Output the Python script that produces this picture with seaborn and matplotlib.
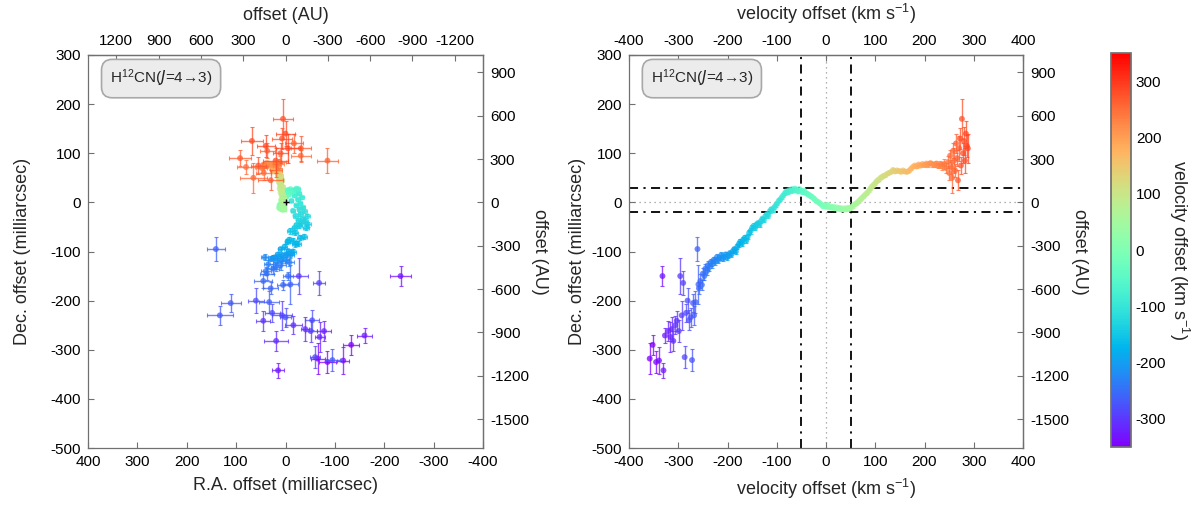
import numpy as np
import pandas as pd
import matplotlib
matplotlib.use("Agg")
import matplotlib.pyplot as plt
import seaborn as sns
from matplotlib.colors import Normalize
from matplotlib.cm import ScalarMappable

# ---------------- data ----------------
# scattered, low-S/N blue-shifted tail
tail_v = [-358, -352, -345, -339, -332, -330, -327, -320, -316, -313, -310, -306, -303, -299,
          -296, -293, -290, -287, -284, -281, -278, -275, -272, -270, -268, -265, -261, -259]
tail_dec = [-318, -290, -325, -322, -150, -342, -271, -262, -274, -258, -282, -250, -241, -262,
            -150, -230, -164, -315, -225, -200, -240, -234, -321, -205, -230, -203, -95, -167]
tail_ra = [-65, -133, -85, -117, -233, 15, -160, -78, -69, -40, 19, -16, 45, -51,
           -27, 7, -68, -60, 27, 60, -54, 0, -95, 111, 133, 33, 141, -10]
tail_era = [14, 16, 18, 12, 22, 12, 15, 14, 10, 8, 25, 18, 14, 12,
            18, 20, 12, 10, 15, 16, 14, 12, 15, 20, 27, 20, 19, 15]
tail_edec = [32, 20, 22, 28, 21, 15, 15, 20, 30, 25, 20, 18, 20, 22,
             36, 30, 25, 22, 18, 25, 20, 20, 22, 18, 20, 22, 24, 40]

# dense main trail
main_v = [-258, -255, -252, -250, -247, -245, -242, -240, -237, -234,
          -231, -228, -225, -222, -219, -216, -213, -210, -207, -204, -201, -198, -195, -192, -189, -186, -183, -180, -177, -174,
          -171, -168, -165, -162, -159, -156, -153, -150, -147, -144, -141, -138, -135, -132, -129, -126, -123, -120, -117, -114,
          -111, -108, -105, -102, -99, -96, -93, -90, -87, -84, -81, -78, -75, -72, -69, -66, -63, -60, -57, -54, -51, -48, -45, -42, -39, -36, -33, -30, -27, -24,
          -21, -18, -15, -12, -9, -6, -3, 0, 3, 6, 9, 12, 15, 18, 21, 24, 27, 30, 33, 36, 39, 42, 45, 48,
          51, 54, 57, 60, 63, 66, 69, 72, 75, 78, 81, 84, 87, 90, 93, 96, 99, 102, 105, 108, 111, 114, 117, 120,
          124, 128, 132, 136, 140, 144, 148, 152, 156, 160, 164, 168, 172, 176, 180, 184, 188, 192, 196, 200,
          204, 208, 212, 216, 220, 224, 228, 232, 236, 240, 244, 248]
main_dec = [-175, -160, -168, -145, -150, -135, -140, -128, -132, -122,
            -126, -117, -121, -112, -118, -113, -108, -115, -110, -106, -112, -108, -103, -106, -99, -95, -100, -90, -85, -80,
            -84, -76, -72, -78, -70, -62, -58, -52, -48, -52, -45, -42, -46, -38, -33, -36, -28, -24, -27, -18,
            -14, -17, -10, -6, -2, 3, 6, 10, 14, 18, 22, 20, 25, 23, 27, 24, 28, 25, 22, 27, 24, 21, 24, 20, 18, 16, 14, 12, 10, 7,
            4, 2, 0, -2, -5, -8, -6, -9, -5, -10, -8, -11, -9, -12, -10, -13, -11, -14, -12, -15, -12, -14, -11, -13,
            -10, -8, -5, -3, -1, 2, 5, 8, 11, 14, 17, 20, 24, 28, 32, 35, 38, 42, 45, 47, 50, 52, 54, 55,
            58, 60, 62, 66, 63, 65, 64, 62, 65, 63, 62, 64, 68, 72, 75, 73, 77, 75, 78, 76,
            79, 77, 80, 78, 76, 79, 75, 77, 74, 78, 70, 82]
main_ra = [30, 45, 5, 38, -5, 25, 40, 10, 20, -8,
           35, 0, 18, 42, 8, 25, -10, 30, 12, -2, 22, 5, -12, 15, -6, 10, -15, 2, -20, -4,
           -25, -8, -30, -15, -38, -20, -10, -42, -28, -18, -45, -32, -22, -40, -35, -26, -44, -30, -20, -38,
           -28, -15, -35, -22, -30, -12, -25, -33, -18, -28, -10, -24, -20, -8, -26, -14, -22, -6, -16, -10, -4, -12, -2, -8, 0, -5, 3, -2, 5, 2,
           6, 2, 8, 4, 10, 5, 9, 3, 12, 6, 10, 4, 11, 7, 13, 5, 9, 8, 12, 4, 10, 6, 9, 3,
           8, 5, 10, 2, 7, 4, 9, 6, 3, 8, 5, 10, 7, 12, 6, 11, 9, 14, 8, 12, 10, 15, 9, 13,
           16, 11, 18, 14, 20, 12, 22, 16, 19, 25, 17, 23, 28, 20, 26, 18, 30, 24, 32, 22,
           35, 27, 38, 24, 40, 20, 42, 18, 45, 15, 48, 12]
main_edec = [12, 14, 10, 12, 9, 10, 8, 9, 8, 7,
             8, 6, 7, 6, 6, 5, 6, 5, 5, 6, 5, 5, 5, 5, 5, 5, 6, 5, 6, 5,
             5, 6, 5, 5, 5, 5, 6, 5, 5, 4, 5, 4, 4, 4, 4, 4, 4, 4, 4, 4,
             4, 3, 3, 3, 3, 3, 3, 3, 3, 3, 3, 3, 3, 3, 3, 3, 3, 3, 3, 3, 3, 3, 3, 3, 3, 3, 3, 3, 3, 3,
             3, 3, 3, 3, 3, 3, 3, 3, 3, 3, 3, 3, 3, 3, 3, 3, 3, 3, 3, 3, 3, 3, 3, 3,
             3, 3, 3, 3, 3, 3, 3, 3, 3, 3, 3, 3, 3, 3, 3, 3, 3, 3, 3, 3, 3, 3, 3, 3,
             3, 3, 3, 3, 3, 3, 3, 3, 3, 3, 3, 3, 3, 3, 3, 3, 3, 3, 3, 3,
             4, 4, 4, 5, 5, 6, 6, 7, 8, 10, 10, 12]
main_era = [15, 18, 12, 14, 10, 12, 10, 11, 9, 9,
            9, 8, 8, 7, 8, 7, 7, 6, 7, 6, 6, 7, 6, 6, 6, 6, 7, 6, 6, 6,
            6, 7, 6, 6, 6, 6, 7, 6, 6, 5, 6, 5, 5, 5, 5, 5, 5, 5, 5, 5,
            5, 4, 4, 4, 4, 4, 4, 4, 4, 4, 4, 4, 4, 4, 4, 4, 4, 4, 4, 4, 4, 4, 4, 4, 4, 4, 4, 4, 4, 4,
            4, 4, 4, 4, 4, 4, 4, 4, 4, 4, 4, 4, 4, 4, 4, 4, 4, 4, 4, 4, 4, 4, 4, 4,
            4, 4, 4, 4, 4, 4, 4, 4, 4, 4, 4, 4, 4, 4, 4, 4, 4, 4, 4, 4, 4, 4, 4, 4,
            4, 4, 4, 4, 4, 4, 4, 4, 4, 4, 4, 4, 4, 4, 4, 4, 4, 4, 4, 4,
            5, 5, 5, 6, 6, 7, 7, 8, 9, 11, 11, 13]

# scattered red-shifted head
head_v = [250, 252, 254, 256, 258, 260, 262, 264, 266, 268, 270, 272, 274, 276, 278, 280, 282, 284, 286, 288]
head_dec = [60, 95, 72, 50, 105, 85, 65, 120, 90, 45, 110, 130, 75, 170, 100, 125, 85, 140, 115, 110]
head_ra = [44, -31, 80, 65, 37, -85, 20, -17, 92, 30, -31, 7, 55, 5, 10, 68, 20, 0, 40, -5]
head_era = [15, 20, 18, 27, 15, 22, 12, 18, 22, 25, 20, 20, 15, 20, 16, 22, 25, 20, 18, 25]
head_edec = [15, 12, 14, 30, 15, 25, 14, 20, 16, 20, 25, 22, 18, 40, 20, 28, 25, 25, 22, 30]

ra_ticks = [400, 300, 200, 100, 0, -100, -200, -300, -400]
dec_ticks = [300, 200, 100, 0, -100, -200, -300, -400, -500]
au_x_ticks = [1200, 900, 600, 300, 0, -300, -600, -900, -1200]
au_y_ticks = [900, 600, 300, 0, -300, -600, -900, -1200, -1500]
vel_ticks = [-400, -300, -200, -100, 0, 100, 200, 300, 400]
cbar_ticks = [-300, -200, -100, 0, 100, 200, 300]
AU_PER_MAS_X = 3.5
AU_PER_MAS_Y = 3.4

df = pd.DataFrame({
    "v": tail_v + main_v + head_v,
    "ra": tail_ra + main_ra + head_ra,
    "dec": tail_dec + main_dec + head_dec,
    "era": tail_era + main_era + head_era,
    "edec": tail_edec + main_edec + head_edec,
})

# ---------------- style ----------------
sns.set_theme(style="ticks")
plt.rcParams["font.family"] = ["Liberation Sans", "DejaVu Sans"]
plt.rcParams["mathtext.default"] = "regular"
plt.rcParams["axes.unicode_minus"] = False
plt.rcParams["axes.edgecolor"] = "#707070"
plt.rcParams["xtick.color"] = "#707070"
plt.rcParams["ytick.color"] = "#707070"
plt.rcParams["xtick.labelcolor"] = "black"
plt.rcParams["ytick.labelcolor"] = "black"

cmap = plt.get_cmap("rainbow")
norm = Normalize(vmin=-350, vmax=350)
TICK_FS = 11
LAB_FS = 13

fig = plt.figure(figsize=(12, 5.13), dpi=100)
ax1 = fig.add_axes([88 / 1200, 1 - 448 / 513, 395 / 1200, 393 / 513])
ax2 = fig.add_axes([629 / 1200, 1 - 448 / 513, 394 / 1200, 393 / 513])
cax = fig.add_axes([1111 / 1200, 1 - 447 / 513, 20 / 1200, 394 / 513])


def style_ticks(ax):
    ax.tick_params(direction="in", length=4, width=0.8, labelsize=TICK_FS, pad=5)
    for s in ax.spines.values():
        s.set_linewidth(0.9)


# ---------------- left panel: RA vs Dec ----------------
for r in df.itertuples():
    c = cmap(norm(r.v))
    ax1.errorbar(r.ra, r.dec, xerr=r.era, yerr=r.edec, fmt="none", ecolor=c,
                 elinewidth=1.0, capsize=1.5, capthick=0.8, alpha=0.75)
sns.scatterplot(data=df, x="ra", y="dec", hue="v", palette="rainbow", hue_norm=(-350, 350),
                s=18, linewidth=0, alpha=0.75, legend=False, ax=ax1)
ax1.plot([0], [0], marker="+", color="black", ms=5, mew=1.0, zorder=10)
ax1.set_xlim(400, -400)
ax1.set_ylim(-500, 300)
ax1.set_xticks(ra_ticks)
ax1.set_yticks(dec_ticks)
ax1.set_xlabel("R.A. offset (milliarcsec)", fontsize=LAB_FS, labelpad=6)
ax1.set_ylabel("Dec. offset (milliarcsec)", fontsize=LAB_FS, labelpad=14)
style_ticks(ax1)

t1 = ax1.secondary_xaxis("top", functions=(lambda x: x * AU_PER_MAS_X, lambda x: x / AU_PER_MAS_X))
t1.set_xticks(au_x_ticks)
t1.set_xlabel("offset (AU)", fontsize=LAB_FS, labelpad=10)
style_ticks(t1)
r1 = ax1.secondary_yaxis("right", functions=(lambda y: y * AU_PER_MAS_Y, lambda y: y / AU_PER_MAS_Y))
r1.set_yticks(au_y_ticks)
r1.set_ylabel("offset (AU)", fontsize=LAB_FS, rotation=270, labelpad=14)
style_ticks(r1)

# ---------------- right panel: velocity vs Dec ----------------
for x0 in (-50, 50):
    ax2.axvline(x0, color="black", lw=1.3, ls=(0, (5, 3, 1.2, 3)), zorder=0)
for y0 in (30, -20):
    ax2.axhline(y0, color="black", lw=1.3, ls=(0, (5, 3, 1.2, 3)), zorder=0)
ax2.axvline(0, color="#999999", lw=0.9, ls=(0, (1, 3)), zorder=0)
ax2.axhline(0, color="#999999", lw=0.9, ls=(0, (1, 3)), zorder=0)

for r in df.itertuples():
    c = cmap(norm(r.v))
    ax2.errorbar(r.v, r.dec, yerr=r.edec, fmt="none", ecolor=c,
                 elinewidth=1.0, capsize=1.5, capthick=0.8, alpha=0.75)
sns.scatterplot(data=df, x="v", y="dec", hue="v", palette="rainbow", hue_norm=(-350, 350),
                s=18, linewidth=0, alpha=0.75, legend=False, ax=ax2)
ax2.set_xlim(-400, 400)
ax2.set_ylim(-500, 300)
ax2.set_xticks(vel_ticks)
ax2.set_yticks(dec_ticks)
ax2.set_xlabel("velocity offset (km s$^{-1}$)", fontsize=LAB_FS, labelpad=6)
ax2.set_ylabel("Dec. offset (milliarcsec)", fontsize=LAB_FS, labelpad=4)
style_ticks(ax2)

t2 = ax2.secondary_xaxis("top")
t2.set_xticks(vel_ticks)
t2.set_xlabel("velocity offset (km s$^{-1}$)", fontsize=LAB_FS, labelpad=10)
style_ticks(t2)
r2 = ax2.secondary_yaxis("right", functions=(lambda y: y * AU_PER_MAS_Y, lambda y: y / AU_PER_MAS_Y))
r2.set_yticks(au_y_ticks)
r2.set_ylabel("offset (AU)", fontsize=LAB_FS, rotation=270, labelpad=14)
style_ticks(r2)

# line label boxes
for ax in (ax1, ax2):
    ax.text(0.185, 0.94, "H$^{12}$CN($\\mathit{J}$=4→3)", transform=ax.transAxes,
            ha="center", va="center", fontsize=11, zorder=20,
            bbox=dict(boxstyle="round,pad=0.55,rounding_size=0.7", fc="#ececec", ec="#a8a8a8", lw=1.2))

# ---------------- colorbar ----------------
sm = ScalarMappable(norm=norm, cmap=cmap)
cb = fig.colorbar(sm, cax=cax)
cb.set_ticks(cbar_ticks)
cb.ax.tick_params(labelsize=TICK_FS, length=4, direction="in", color="#707070")
cb.outline.set_edgecolor("#707070")
cb.set_label("velocity offset (km s$^{-1}$)", fontsize=LAB_FS, rotation=270, labelpad=18)

fig.savefig("out.png", dpi=100)
